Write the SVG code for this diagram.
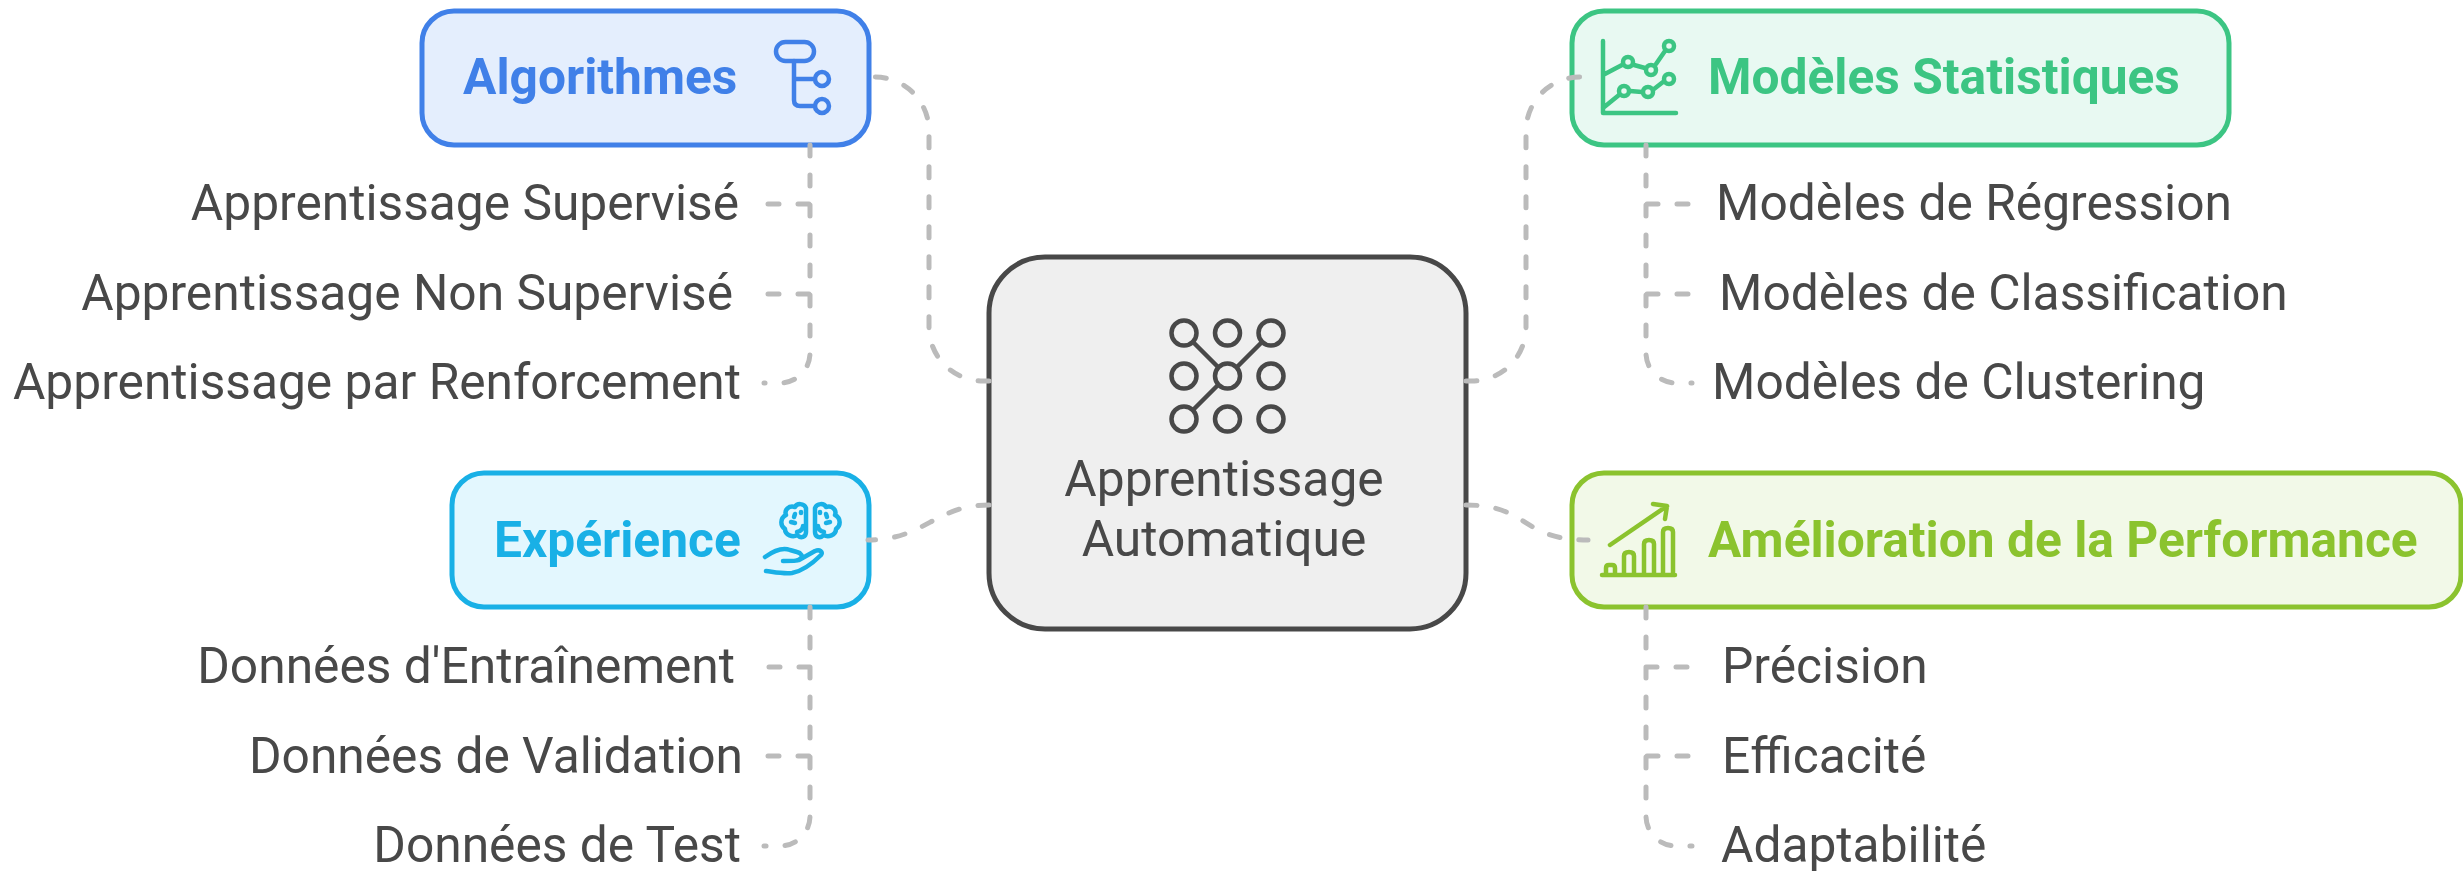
<svg xmlns="http://www.w3.org/2000/svg" width="2463" height="871" viewBox="0 0 2463 871">
<style>
text{font-family:Roboto,"Liberation Sans",sans-serif;fill:#484848;font-size:49.7px}
.t{font-weight:700;font-size:49.7px}
.e{text-anchor:end}
.box{stroke-width:5}
.c{fill:none;stroke:#bbb;stroke-width:5;stroke-dasharray:11 19;stroke-linecap:round}
.i{fill:none;stroke-width:4.5;stroke-linecap:round;stroke-linejoin:round}
</style>
<defs>
<g id="lobe">
<path d="M806 508C804 503 797 503 795 507C789 505 784 510 786 515C780 518 780 526 785 529C785 535 793 538 797 535C801 539 806 537 806 532Z"/>
<path d="M801 512L801 513M791 522L795 523M797 532C801 531 803 529 803 526M795 514L794 517"/>
</g>
</defs>
<rect width="2463" height="871" fill="#fff"/>
<g id="center">
<rect class="box" x="989" y="257" width="477" height="372" rx="56" fill="#efefef" stroke="#484848"/>
<g class="i" stroke="#484848">
<circle cx="1184" cy="333" r="12.5"/><circle cx="1227.5" cy="333" r="12.5"/><circle cx="1271" cy="333" r="12.5"/>
<circle cx="1184" cy="376" r="12.5"/><circle cx="1227.5" cy="376" r="12.5"/><circle cx="1271" cy="376" r="12.5"/>
<circle cx="1184" cy="419" r="12.5"/><circle cx="1227.5" cy="419" r="12.5"/><circle cx="1271" cy="419" r="12.5"/>
<path d="M1193 342L1218 367M1262 342L1237 367M1218 385L1193 410"/>
</g>
<text x="1224" y="496" text-anchor="middle">Apprentissage</text>
<text x="1224" y="556" text-anchor="middle">Automatique</text>
</g>
<g id="algorithmes">
<rect class="box" x="422" y="11" width="447" height="134" rx="32" fill="#e4eefd" stroke="#4080e8"/>
<text class="t" x="463" y="93.5" style="fill:#4080e8">Algorithmes</text>
<g class="i" stroke="#4080e8">
<rect x="776" y="42" width="38" height="19" rx="9.5"/>
<path d="M794 61V100Q794 106 800 106H814M794 79H814"/>
<circle cx="822" cy="79" r="7"/><circle cx="822" cy="106" r="7"/>
</g>
</g>
<g id="modeles">
<rect class="box" x="1572" y="11" width="657" height="134" rx="32" fill="#e8f9f2" stroke="#3cc583"/>
<text class="t" x="1708" y="93.5" style="fill:#3cc583">Modèles Statistiques</text>
<g class="i" stroke="#3cc583">
<path d="M1603 41V113H1676M1603 75L1622 65M1634 65L1645 68M1656 64L1665 51M1603 108L1619 95M1630 91L1642 92M1654 89L1663 82"/>
<circle cx="1628" cy="62" r="5"/><circle cx="1651" cy="70" r="5"/><circle cx="1669" cy="46" r="5"/>
<circle cx="1624" cy="91" r="5"/><circle cx="1648" cy="92" r="5"/><circle cx="1669" cy="79" r="5"/>
</g>
</g>
<g id="experience">
<rect class="box" x="452" y="473" width="417" height="134" rx="32" fill="#e3f7fe" stroke="#19b0e6"/>
<text class="t" x="494" y="556.5" style="fill:#19b0e6">Expérience</text>
<g class="i" stroke="#19b0e6">
<use href="#lobe"/>
<use href="#lobe" transform="matrix(-1 0 0 1 1621 0)"/>
<path d="M765 557C772 552 782 547 790 550L797 552C801 553 803 556 801 558C799 561 795 561 783 561M799 560L815 551C820 549 823 552 821 555C814 562 803 571 792 573C783 574 774 572 766 571"/>
</g>
</g>
<g id="amelioration">
<rect class="box" x="1572" y="473" width="889" height="134" rx="32" fill="#f2f9e8" stroke="#8bc32e"/>
<text class="t" x="1708" y="556.5" style="fill:#8bc32e">Amélioration de la Performance</text>
<g class="i" stroke="#8bc32e">
<path d="M1602 575H1675M1606 575V568Q1606 565 1609 565H1612Q1615 565 1615 568V575M1624 575V556Q1624 552 1629 552Q1634 552 1634 556V575M1644 575V544Q1644 540 1649 540Q1654 540 1654 544V575M1663 575V532Q1663 528 1668 528Q1673 528 1673 532V575M1610 545L1667 506M1653 504L1667 506L1665 519"/>
</g>
</g>
<g id="labels">
<text class="e" x="739" y="220">Apprentissage Supervisé</text>
<text class="e" x="733" y="310">Apprentissage Non Supervisé</text>
<text class="e" x="741" y="399">Apprentissage par Renforcement</text>
<text x="1716" y="220">Modèles de Régression</text>
<text x="1719" y="310">Modèles de Classification</text>
<text x="1712" y="399">Modèles de Clustering</text>
<text class="e" x="735" y="683">Données d'Entraînement</text>
<text class="e" x="743" y="773">Données de Validation</text>
<text class="e" x="741" y="862">Données de Test</text>
<text x="1722" y="683">Précision</text>
<text x="1722" y="773">Efficacité</text>
<text x="1721" y="862">Adaptabilité</text>
</g>
<g id="connectors">
<path class="c" d="M989 381H983A54 54 0 0 1 929 327V131A54 54 0 0 0 875 77"/>
<path class="c" d="M1466 381H1472A54 54 0 0 0 1526 327V131A54 54 0 0 1 1580 77"/>
<path class="c" d="M989 505C935 505 925 540 868 540"/>
<path class="c" d="M1466 505C1530 505 1520 540 1588 540"/>
<path class="c" d="M810 145V204H765M810 145V294H765M810 145V353A30 30 0 0 1 780 383H764"/>
<path class="c" d="M1646 145V204H1691M1646 145V294H1691M1646 145V353A30 30 0 0 0 1676 383H1692"/>
<path class="c" d="M810 607V667H765M810 607V756H765M810 607V816A30 30 0 0 1 780 846H764"/>
<path class="c" d="M1646 607V667H1691M1646 607V756H1691M1646 607V816A30 30 0 0 0 1676 846H1692"/>
</g>
</svg>
